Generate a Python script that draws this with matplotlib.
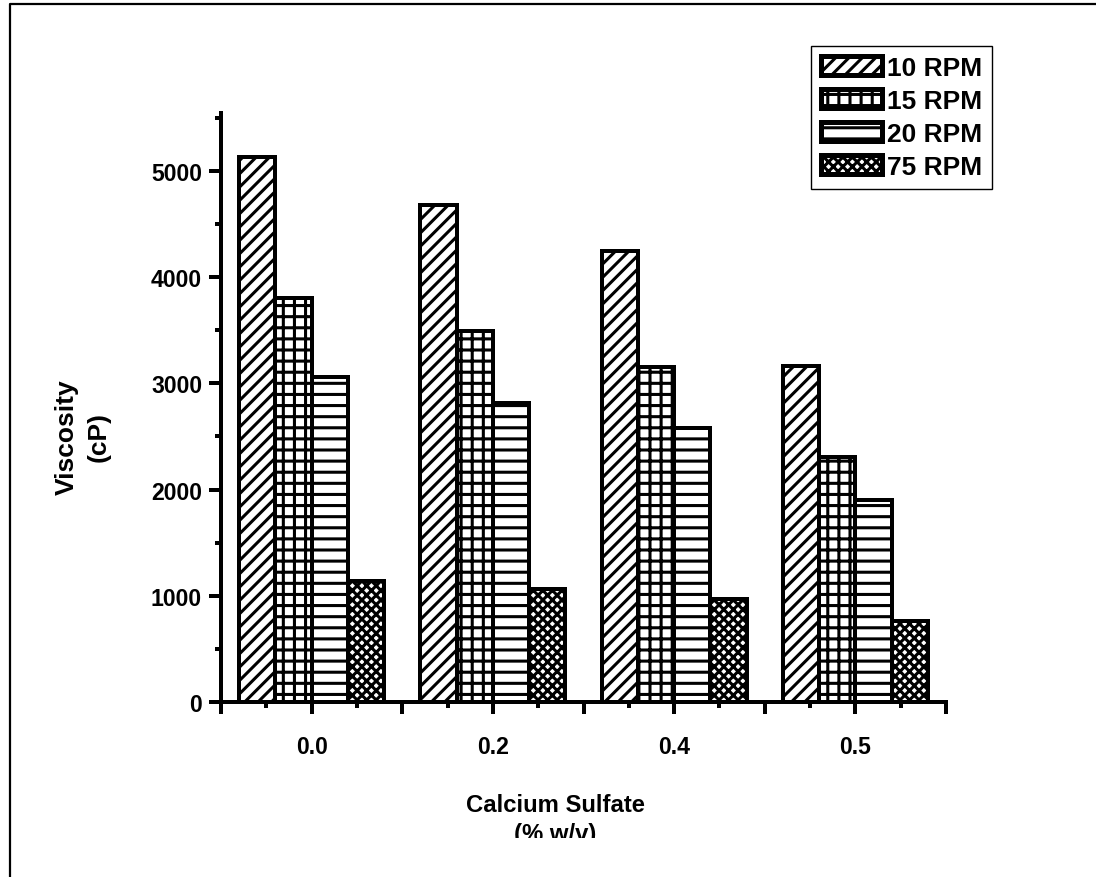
import matplotlib
matplotlib.use('Agg')
import matplotlib.pyplot as plt
import numpy as np
from matplotlib.lines import Line2D
from matplotlib.transforms import Bbox, TransformedBbox

plt.rcParams['font.family'] = ['Liberation Sans', 'DejaVu Sans']
plt.rcParams['font.weight'] = 'bold'
plt.rcParams['hatch.linewidth'] = 1.1
plt.rcParams['hatch.color'] = 'black'

# data
conc_labels = ['0.0', '0.2', '0.4', '0.5']
speeds = ['10 RPM', '15 RPM', '20 RPM', '75 RPM']
rpm10 = [5130, 4680, 4250, 3160]
rpm15 = [3800, 3490, 3150, 2310]
rpm20 = [3060, 2820, 2580, 1900]
rpm75 = [1140, 1060, 970, 760]
hatches = ['/////', '+++', '---', 'xxxxxxx']

# 200 dpi so hatch spacing comes out near the original's ~11 px
fig = plt.figure(figsize=(5.48, 4.39), dpi=200)
ax = fig.add_axes([221 / 1096, 1 - 703 / 878, 725 / 1096, 589 / 878])

x = np.arange(1, len(conc_labels) + 1)
width = 0.2
for i, (vals, lab, h) in enumerate(zip([rpm10, rpm15, rpm20, rpm75], speeds, hatches)):
    ax.bar(x + (i - 1.5) * width, vals, width, color='white', edgecolor='black',
           linewidth=1.44, hatch=h, label=lab)

ax.set_xlim(0.5, 4.5)
ax.set_ylim(0, 5546)

major = np.arange(0.5, 4.51, 0.5)
ax.set_xticks(major)
ax.set_xticklabels([conc_labels[int(m) - 1] if m == int(m) else '' for m in major])
ax.set_xticks(np.arange(0.75, 4.5, 0.5), minor=True)
ax.set_yticks(np.arange(0, 5001, 1000))
ax.set_yticks(np.arange(500, 5501, 1000), minor=True)

for s in ['top', 'right']:
    ax.spines[s].set_visible(False)
for s in ['left', 'bottom']:
    ax.spines[s].set_linewidth(1.44)

ax.tick_params(which='major', length=4.3, width=1.44, labelsize=8.3)
ax.tick_params(which='minor', length=2.2, width=1.44)
ax.tick_params(axis='x', which='major', pad=7.5)
ax.tick_params(axis='y', which='major', pad=2.5)

# axis titles
fig.text(67 / 1096, 1 - 437 / 878, 'Viscosity', rotation=90, ha='center', va='center',
         fontsize=9.5, fontweight='bold')
fig.text(99 / 1096, 1 - 437 / 878, '(cP)', rotation=90, ha='center', va='center',
         fontsize=9.5, fontweight='bold')
fig.text(555 / 1096, 1 - 812 / 878, 'Calcium Sulfate', ha='center', va='baseline',
         fontsize=8.6, fontweight='bold')
t = fig.text(555 / 1096, 1 - 841 / 878, '(% w/v)', ha='center', va='baseline',
             fontsize=8.6, fontweight='bold')
# the original picture is cut off just under this line
t.set_clip_box(TransformedBbox(Bbox([[0, 1 - 839 / 878], [1, 1]]), fig.transFigure))
t.set_clip_on(True)

leg = fig.legend(loc='upper right', bbox_to_anchor=(992 / 1096, 1 - 47 / 878),
                 bbox_transform=fig.transFigure, fontsize=9.5, handlelength=2.3,
                 handleheight=0.75, labelspacing=0.34, handletextpad=0.2,
                 borderpad=0.38, fancybox=False, edgecolor='black', framealpha=1,
                 borderaxespad=0)
leg.get_frame().set_linewidth(0.5)
for p in leg.get_patches():
    p.set_linewidth(1.8)

# frame around the page (left and top only are visible in the original)
fig.add_artist(Line2D([10 / 1096, 10 / 1096, 1], [0, 1 - 5 / 878, 1 - 5 / 878],
                      transform=fig.transFigure, color='black', lw=0.8))

fig.savefig('out.png', dpi=200)
